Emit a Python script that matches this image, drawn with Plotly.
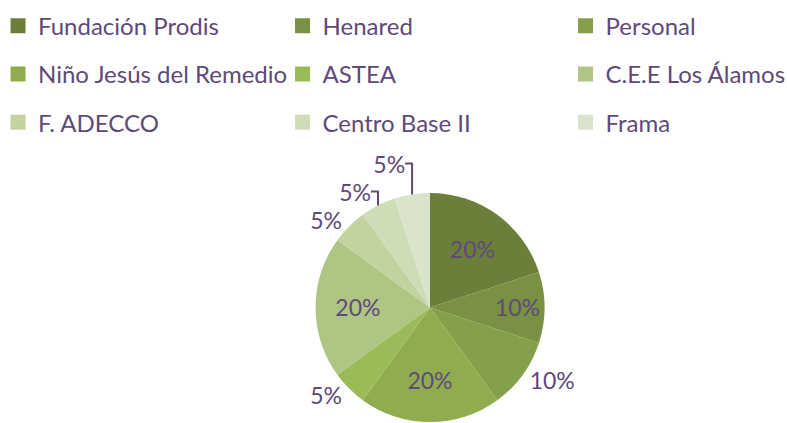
import plotly.graph_objects as go

labels = ["Fundación Prodis", "Henared", "Personal", "Niño Jesús del Remedio", "ASTEA",
          "C.E.E Los Álamos", "F. ADECCO", "Centro Base II", "Frama"]
values = [20, 10, 10, 20, 5, 20, 5, 5, 5]
colors = ["#6b7f3a", "#7a9042", "#84a049", "#8fad4f", "#9bbb59",
          "#afc584", "#c2d3a0", "#cfdcb8", "#dae3cb"]
text_positions = ["inside", "inside", "outside", "inside", "outside",
                  "inside", "outside", "outside", "outside"]

font_family = "Lato, Carlito, sans-serif"
text_color = "#5f497a"
legend_font_size = 24
pie_font_size = 23

fig = go.Figure()
fig.add_trace(go.Pie(
    labels=labels,
    values=values,
    sort=False,
    direction="clockwise",
    rotation=0,
    marker=dict(colors=colors, line=dict(width=0)),
    texttemplate="%{percent:.0%}",
    textposition=text_positions,
    insidetextorientation="horizontal",
    textfont=dict(size=pie_font_size, color=text_color, family=font_family),
    domain=dict(x=[0.39898, 0.69377], y=[0.00236, 0.54374]),
    hoverinfo="label+percent",
    showlegend=False,
))

# legend entries laid out in three columns (one legend per column)
legend_names = ["legend", "legend2", "legend3"]
for i, (lab, col) in enumerate(zip(labels, colors)):
    fig.add_trace(go.Scatter(
        x=[None], y=[None], mode="markers", name=lab,
        marker=dict(symbol="square", size=15, color=col, line=dict(width=0)),
        legend=legend_names[i % 3], legendgroup=f"g{i}",
        hoverinfo="skip",
    ))

legend_common = dict(
    orientation="v", y=0.9914, yanchor="top", xanchor="left",
    font=dict(size=legend_font_size, color=text_color, family=font_family),
    tracegroupgap=14, itemwidth=30, bgcolor="rgba(0,0,0,0)",
)

fig.update_layout(
    width=787, height=423,
    margin=dict(l=0, r=0, t=0, b=0, autoexpand=False),
    paper_bgcolor="white",
    plot_bgcolor="white",
    font=dict(family=font_family, color=text_color, size=legend_font_size),
    xaxis=dict(visible=False),
    yaxis=dict(visible=False),
    legend=dict(x=-0.0025, **legend_common),
    legend2=dict(x=0.3590, **legend_common),
    legend3=dict(x=0.7186, **legend_common),
)

fig.write_html("out.html", config={"displayModeBar": False},
               post_script="document.body.style.margin='0';")
